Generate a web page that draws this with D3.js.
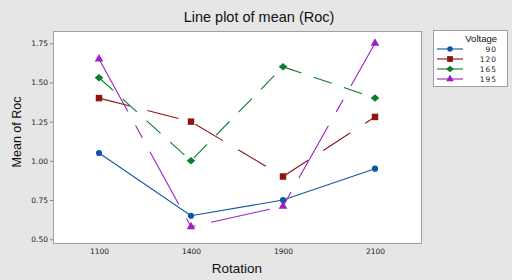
<!DOCTYPE html>
<html>
<head>
<meta charset="utf-8">
<script src="https://cdn.jsdelivr.net/npm/d3@7"></script>
<style>
  body { margin: 0; background: #e6e6e6; }
  svg { display: block; }
</style>
</head>
<body>
<div id="vis"></div>
<script>
// data
const rotations = ["1100", "1400", "1900", "2100"];
const voltages = ["90", "120", "165", "195"];
const mean90 = [1.05, 0.65, 0.75, 0.95];
const mean120 = [1.40, 1.25, 0.90, 1.28];
const mean165 = [1.53, 1.00, 1.60, 1.40];
const mean195 = [1.65, 0.58, 0.71, 1.75];
const yTicks = [0.50, 0.75, 1.00, 1.25, 1.50, 1.75];

const width = 512;
const height = 280;
const plot = { left: 53, right: 421, top: 31, bottom: 243 };

// squat diamond, like the minitab marker
const wideDiamond = {
  draw(ctx, size) {
    const h = Math.sqrt(size) / 2;
    const w = h * 1.15;
    ctx.moveTo(0, -h);
    ctx.lineTo(w, 0);
    ctx.lineTo(0, h);
    ctx.lineTo(-w, 0);
    ctx.closePath();
  }
};

const series = [
  { name: voltages[0], values: mean90,  colour: "#0d56a6", dash: null,          symbol: d3.symbolCircle,   size: 30 },
  { name: voltages[1], values: mean120, colour: "#8b1414", dash: "32,18",       symbol: d3.symbolSquare,   size: 42 },
  { name: voltages[2], values: mean165, colour: "#0c7d2c", dash: "19,13",       symbol: wideDiamond,       size: 56 },
  { name: voltages[3], values: mean195, colour: "#9b1fc4", dash: "60,16,14,16", symbol: d3.symbolTriangle, size: 32 }
];

const svg = d3.select("#vis").append("svg")
  .attr("width", width)
  .attr("height", height)
  .style("font-family", "'Liberation Sans', Arial, sans-serif");

svg.append("rect")
  .attr("width", width).attr("height", height)
  .attr("fill", "#e6e6e6");

const x = d3.scalePoint()
  .domain(rotations)
  .range([plot.left, plot.right])
  .padding(0.5);

const y = d3.scaleLinear()
  .domain([0.476, 1.828])
  .range([plot.bottom, plot.top]);

// plot area
svg.append("rect")
  .attr("x", plot.left + 0.5).attr("y", plot.top + 0.5)
  .attr("width", plot.right - plot.left)
  .attr("height", plot.bottom - plot.top)
  .attr("fill", "#fff")
  .attr("stroke", "#a0a0a0");

// y axis
const yAxis = svg.append("g")
  .attr("transform", `translate(${plot.left},0)`)
  .call(d3.axisLeft(y).tickValues(yTicks).tickFormat(d3.format(".2f")).tickSize(3).tickSizeOuter(0));
yAxis.select(".domain").remove();
yAxis.selectAll("line").attr("stroke", "#888");
yAxis.selectAll("text")
  .attr("x", -5)
  .style("font-family", "'DejaVu Sans', Verdana, sans-serif")
  .style("font-size", "7.5px")
  .attr("fill", "#222");

// x axis
const xAxis = svg.append("g")
  .attr("transform", `translate(0,${plot.bottom})`)
  .call(d3.axisBottom(x).tickSize(0));
xAxis.select(".domain").remove();
xAxis.selectAll("text")
  .attr("y", 6)
  .style("font-family", "'DejaVu Sans', Verdana, sans-serif")
  .style("font-size", "7.5px")
  .attr("fill", "#222");

// titles
svg.append("text")
  .attr("x", 259).attr("y", 22)
  .attr("text-anchor", "middle")
  .style("font-size", "14.5px")
  .attr("fill", "#111")
  .text("Line plot of mean (Roc)");

svg.append("text")
  .attr("x", (plot.left + plot.right) / 2).attr("y", 273)
  .attr("text-anchor", "middle")
  .style("font-size", "13.5px")
  .attr("fill", "#111")
  .text("Rotation");

svg.append("text")
  .attr("transform", "translate(21,132) rotate(-90)")
  .attr("text-anchor", "middle")
  .style("font-size", "12.5px")
  .attr("fill", "#111")
  .text("Mean of Roc");

// lines
const line = d3.line()
  .x((d, i) => x(rotations[i]))
  .y(d => y(d));

series.forEach(s => {
  svg.append("path")
    .datum(s.values)
    .attr("d", line)
    .attr("fill", "none")
    .attr("stroke", s.colour)
    .attr("stroke-width", 1.1)
    .attr("stroke-dasharray", s.dash);
});

// markers
series.forEach(s => {
  svg.selectAll(null)
    .data(s.values)
    .enter()
    .append("path")
    .attr("transform", (d, i) => `translate(${x(rotations[i])},${y(d)})`)
    .attr("d", d3.symbol().type(s.symbol).size(s.size))
    .attr("fill", s.colour);
});

// legend
const legend = svg.append("g");
legend.append("rect")
  .attr("x", 433.5).attr("y", 30.5)
  .attr("width", 74).attr("height", 56)
  .attr("fill", "#fff")
  .attr("stroke", "#a0a0a0");
legend.append("text")
  .attr("x", 497).attr("y", 42)
  .attr("text-anchor", "end")
  .style("font-size", "9.5px")
  .attr("fill", "#111")
  .text("Voltage");

series.forEach((s, i) => {
  const ly = 49 + i * 10;
  legend.append("line")
    .attr("x1", 437).attr("x2", 463)
    .attr("y1", ly).attr("y2", ly)
    .attr("stroke", s.colour)
    .attr("stroke-width", 1.1);
  legend.append("path")
    .attr("transform", `translate(450,${ly})`)
    .attr("d", d3.symbol().type(s.symbol).size(s.size * 0.8))
    .attr("fill", s.colour);
  legend.append("text")
    .attr("x", 497).attr("y", ly + 3)
    .attr("text-anchor", "end")
    .style("font-family", "'DejaVu Sans', Verdana, sans-serif")
    .style("font-size", "7.5px")
    .style("letter-spacing", "1px")
    .attr("fill", "#222")
    .text(s.name);
});
</script>
</body>
</html>
